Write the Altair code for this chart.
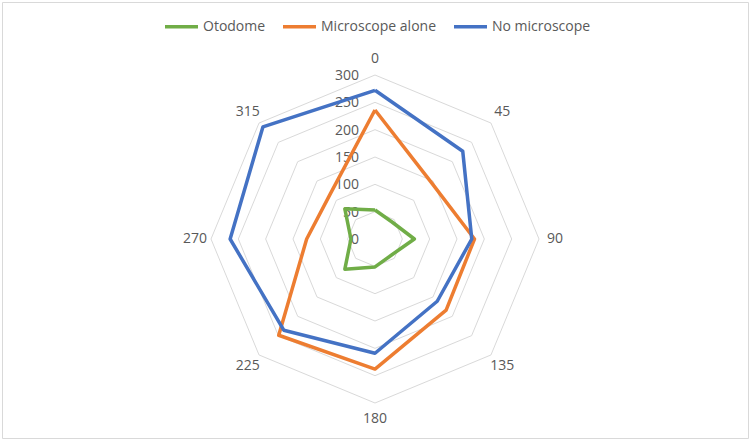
import altair as alt
import pandas as pd

# Direction of each radar spoke (degrees, clockwise from the top)
angles = [0, 45, 90, 135, 180, 225, 270, 315]

# Series values, one per spoke
otodome = [53, 44, 72, 42, 51, 78, 44, 78]
microscope_alone = [236, 146, 182, 184, 238, 249, 125, 116]
no_microscope = [272, 227, 177, 161, 209, 236, 265, 290]

series_names = ["Otodome", "Microscope alone", "No microscope"]
series_colors = ["#70AD47", "#ED7D31", "#4472C4"]

# Radial gridline levels and their labels
grid_levels = [0, 50, 100, 150, 200, 250, 300]

# Layout of the radar inside the 750x440 canvas
PAD = 2
W, H = 750 - 2 * PAD, 440 - 2 * PAD
CX, CY = 373, 237          # centre of the radar inside the plot area (px)
R_PX = 164                 # pixel radius of the outer (300) ring
R_MAX = 300
U = R_MAX / R_PX           # data units per pixel
x_dom = [-CX * U, (W - CX) * U]
y_dom = [-(H - CY) * U, CY * U]
LABEL_R = 180 * U          # radius of the spoke labels

FONT = "Open Sans"
TEXT_COLOR = "#595959"

# Long table for the series, each polygon closed by repeating its first point
rows = []
for name, vals in zip(series_names, [otodome, microscope_alone, no_microscope]):
    for i, (a, v) in enumerate(list(zip(angles, vals)) + [(angles[0], vals[0])]):
        rows.append({"series": name, "angle": a, "value": v, "idx": i})
series_df = pd.DataFrame(rows)

grid_rows = []
for lvl in grid_levels[1:]:
    for i, a in enumerate(angles + [angles[0]]):
        grid_rows.append({"level": lvl, "angle": a, "idx": i})
grid_df = pd.DataFrame(grid_rows)

tick_df = pd.DataFrame({"level": grid_levels, "label": [str(v) for v in grid_levels]})
spoke_df = pd.DataFrame({"angle": angles, "label": [str(a) for a in angles], "r": [LABEL_R] * len(angles)})

xs = alt.Scale(domain=x_dom, nice=False, zero=False)
ys = alt.Scale(domain=y_dom, nice=False, zero=False)
X = lambda: alt.X("px:Q", scale=xs, axis=None)
Y = lambda: alt.Y("py:Q", scale=ys, axis=None)

grid = alt.Chart(grid_df).transform_calculate(
    px="datum.level * sin(datum.angle * PI / 180)",
    py="datum.level * cos(datum.angle * PI / 180)",
).mark_line(color="#D9D9D9", strokeWidth=1, clip=False).encode(
    x=X(), y=Y(), detail="level:N", order="idx:Q"
)

ticks = alt.Chart(tick_df).transform_calculate(
    px="0", py="datum.level"
).mark_text(
    align="right", baseline="middle", dx=-16, dy=1,
    font=FONT, fontSize=14, color=TEXT_COLOR
).encode(x=X(), y=Y(), text="label:N")

lines = alt.Chart(series_df).transform_calculate(
    px="datum.value * sin(datum.angle * PI / 180)",
    py="datum.value * cos(datum.angle * PI / 180)",
).mark_line(strokeWidth=3.5, strokeJoin="round", clip=False).encode(
    x=X(), y=Y(), order="idx:Q",
    color=alt.Color(
        "series:N",
        scale=alt.Scale(domain=series_names, range=series_colors),
        legend=alt.Legend(
            title=None, orient="none", direction="horizontal",
            legendX=161, legendY=6,
            symbolType="stroke", symbolStrokeWidth=3.5, symbolSize=1089,
            labelFont=FONT, labelFontSize=14, labelColor=TEXT_COLOR,
            labelOffset=3, columnPadding=10,
        ),
    ),
)

spokes = alt.Chart(spoke_df).transform_calculate(
    px="datum.r * sin(datum.angle * PI / 180)",
    py="datum.r * cos(datum.angle * PI / 180)",
).mark_text(
    align="center", baseline="middle", font=FONT, fontSize=14, color=TEXT_COLOR
).encode(x=X(), y=Y(), text="label:N")

chart = alt.layer(grid, ticks, lines, spokes).properties(
    width=W, height=H, padding=PAD, autosize=alt.AutoSizeParams(type="none"),
    background="white",
).configure_view(stroke="#D9D9D9", strokeWidth=1)

chart.save("out.html", embed_options={"renderer": "svg", "actions": False})
